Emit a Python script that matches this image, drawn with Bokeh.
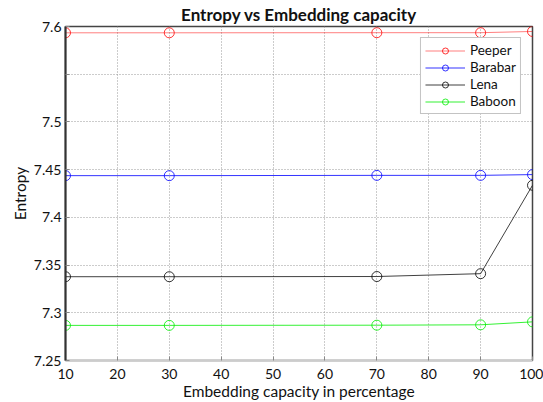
from bokeh.plotting import figure
from bokeh.models import (Range1d, FixedTicker, Legend, LegendItem)
from bokeh.embed import file_html
from bokeh.resources import INLINE

# ---- data ----
capacity = [10, 30, 70, 90, 100]
peeper = [7.5934, 7.5934, 7.5935, 7.5935, 7.5948]
barabar = [7.4437, 7.4437, 7.4440, 7.4440, 7.4448]
lena = [7.3378, 7.3378, 7.3380, 7.3410, 7.4336]
baboon = [7.2868, 7.2868, 7.2870, 7.2874, 7.2905]

series_names = ["Peeper", "Barabar", "Lena", "Baboon"]
series_values = [peeper, barabar, lena, baboon]
series_colors = ["#ff0000", "#0000ff", "#000000", "#00ee00"]
series_line_alpha = [0.5, 0.8, 0.75, 0.8]

x_ticks = [10, 20, 30, 40, 50, 60, 70, 80, 90, 100]
y_ticks = [7.25, 7.3, 7.35, 7.4, 7.45, 7.5, 7.55, 7.6]
y_tick_labels = ["7.25", "7.3", "7.35", "7.4", "7.45", "7.5", "", "7.6"]

FONT = "Lato"

p = figure(
    frame_width=467, frame_height=334,
    min_border_left=65, min_border_top=25, min_border_right=11, min_border_bottom=43,
    x_range=Range1d(10, 100), y_range=Range1d(7.25, 7.6),
    output_backend="svg", toolbar_location=None,
    title="Entropy vs Embedding capacity",
)

p.title.align = "center"
p.title.text_font = FONT
p.title.text_font_size = "17px"
p.title.text_font_style = "bold"
p.title.text_color = "#111111"
p.title.standoff = 3
p.title.offset = 0

p.background_fill_color = "white"
p.border_fill_color = "white"
p.outline_line_color = "#444444"
p.outline_line_width = 1.5

# axes
xa = p.xaxis[0]
ya = p.yaxis[0]
xa.ticker = FixedTicker(ticks=x_ticks)
ya.ticker = FixedTicker(ticks=y_ticks)
ya.major_label_overrides = {t: l for t, l in zip(y_ticks, y_tick_labels)}
xa.axis_label = "Embedding capacity in percentage"
ya.axis_label = "Entropy"
for ax in (xa, ya):
    ax.major_tick_in = 4
    ax.major_tick_out = 0
    ax.minor_tick_line_color = None
    ax.major_label_text_font = FONT
    ax.major_label_text_font_size = "14px"
    ax.major_label_text_color = "#111111"
    ax.axis_label_text_font = FONT
    ax.axis_label_text_font_size = "15.5px"
    ax.axis_label_text_font_style = "normal"
    ax.axis_label_text_color = "#111111"
    ax.major_tick_line_color = "#888888"
xa.axis_line_color = "#cccccc"
ya.axis_line_color = "#333333"
ya.axis_line_width = 2
xa.major_label_standoff = 8
xa.axis_label_standoff = 0
ya.major_label_standoff = 4
ya.axis_label_standoff = 2

# grid
for g in (p.xgrid[0], p.ygrid[0]):
    g.grid_line_color = "#999999"
    g.grid_line_dash = "1 2"
    g.grid_line_width = 1
p.xgrid[0].ticker = FixedTicker(ticks=x_ticks)
p.ygrid[0].ticker = FixedTicker(ticks=y_ticks)

items = []
for name, vals, col, la in zip(series_names, series_values, series_colors, series_line_alpha):
    lr = p.line(capacity, vals, line_color=col, line_width=1, line_alpha=la)
    sr = p.scatter(capacity, vals, marker="circle", size=10, fill_color=None,
                   line_color=col, line_width=1, line_alpha=0.8)
    items.append(LegendItem(label=name, renderers=[lr, sr]))

legend = Legend(items=items, location="top_right")
legend.margin = 11
legend.padding = 4
legend.spacing = 1
legend.glyph_width = 40
legend.glyph_height = 15
legend.label_height = 15
legend.label_standoff = 5
legend.label_text_font = FONT
legend.label_text_font_size = "13.5px"
legend.label_text_color = "#111111"
legend.border_line_color = "#888888"
legend.border_line_width = 1
legend.background_fill_color = "white"
legend.background_fill_alpha = 1
p.add_layout(legend, "center")

open("out.html", "w").write(file_html(p, INLINE))
